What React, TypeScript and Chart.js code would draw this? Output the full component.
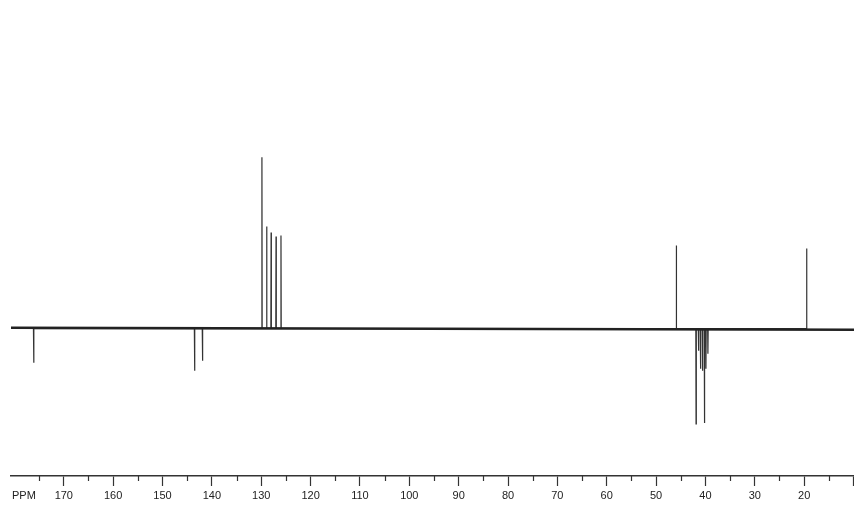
import React, { useEffect, useRef } from "react";
import { Chart, registerables } from "chart.js";
Chart.register(...registerables);

// Peak positions (ppm) and signed intensities (arbitrary units)
const peakPpm = [176.1, 143.5, 141.9, 129.86, 128.9, 128.0, 127.0, 126.0, 45.9, 41.9, 41.4, 41.0, 40.6, 40.2, 39.9, 39.5, 19.5];
const peakHeight = [-34, -42, -32, 171, 102, 96, 92, 93, 83, -95, -22, -40, -42, -94, -40, -25, 80];

// Baseline end points
const baselinePpm = [180.7, 9.9];
const baselineLevel = [1, -1];

// Axis ticks
const majorTicks = [10, 20, 30, 40, 50, 60, 70, 80, 90, 100, 110, 120, 130, 140, 150, 160, 170];
const majorLabels = ["", "20", "30", "40", "50", "60", "70", "80", "90", "100", "110", "120", "130", "140", "150", "160", "170"];
const minorTicks = [15, 25, 35, 45, 55, 65, 75, 85, 95, 105, 115, 125, 135, 145, 155, 165, 175];
const axisTitle = "PPM";

export default function App() {
  const ref = useRef<HTMLCanvasElement | null>(null);
  useEffect(() => {
    document.body.style.margin = "0";
    const canvas = ref.current;
    if (!canvas) return;
    const d = 0.05;
    const order = peakPpm.map((p, i) => i).sort((a, b) => peakPpm[b] - peakPpm[a]);
    const spectrum: { x: number; y: number }[] = [];
    order.forEach((i) => {
      spectrum.push({ x: peakPpm[i] + d, y: 0 });
      spectrum.push({ x: peakPpm[i], y: peakHeight[i] });
      spectrum.push({ x: peakPpm[i] - d, y: 0 });
    });
    const baseline = baselinePpm.map((x, i) => ({ x, y: baselineLevel[i] }));

    const extras = {
      id: "extras",
      afterDraw(chart: any) {
        const ctx = chart.ctx;
        const sx = chart.scales.x;
        const yb = chart.chartArea.bottom;
        ctx.save();
        ctx.strokeStyle = "#333";
        ctx.lineWidth = 1.2;
        minorTicks.forEach((v) => {
          const px = Math.round(sx.getPixelForValue(v)) + 0.5;
          ctx.beginPath();
          ctx.moveTo(px, yb);
          ctx.lineTo(px, yb + 5);
          ctx.stroke();
        });
        ctx.fillStyle = "#222";
        ctx.font = "11px 'Liberation Sans', Arial, sans-serif";
        ctx.textBaseline = "middle";
        ctx.textAlign = "left";
        ctx.fillText(axisTitle, 12, 496);
        ctx.restore();
      },
    };

    const chart = new Chart(canvas, {
      type: "line",
      data: {
        datasets: [
          {
            data: baseline,
            borderColor: "#222",
            borderWidth: 2.4,
            pointRadius: 0,
            tension: 0,
          },
          {
            data: spectrum,
            borderColor: "#333",
            borderWidth: 1.2,
            pointRadius: 0,
            tension: 0,
          },
        ],
      },
      options: {
        animation: false,
        responsive: false,
        events: [],
        layout: { padding: { top: 0, left: 11, right: 0, bottom: 0 } },
        plugins: { legend: { display: false }, tooltip: { enabled: false } },
        scales: {
          x: {
            type: "linear",
            reverse: true,
            min: 9.9,
            max: 180.7,
            afterBuildTicks: (scale: any) => {
              scale.ticks = majorTicks.map((v) => ({ value: v }));
            },
            afterFit: (scale: any) => {
              scale.paddingLeft = 0;
              scale.paddingRight = 0;
            },
            ticks: {
              autoSkip: false,
              maxRotation: 0,
              padding: 4,
              color: "#222",
              font: { size: 11, lineHeight: 1, family: "'Liberation Sans', Arial, sans-serif" },
              callback: (v: any) => {
                const i = majorTicks.indexOf(Number(v));
                return i >= 0 ? majorLabels[i] : "";
              },
            },
            grid: {
              drawOnChartArea: false,
              tickLength: 10,
              tickColor: "#333",
              tickWidth: 1.2,
            },
            border: { color: "#333", width: 1.5 },
          },
          y: {
            type: "linear",
            min: -147,
            max: 328,
            display: false,
          },
        },
      },
      plugins: [extras],
    });
    return () => chart.destroy();
  }, []);
  return <canvas ref={ref} width={854} height={505} style={{ display: "block" }} />;
}
